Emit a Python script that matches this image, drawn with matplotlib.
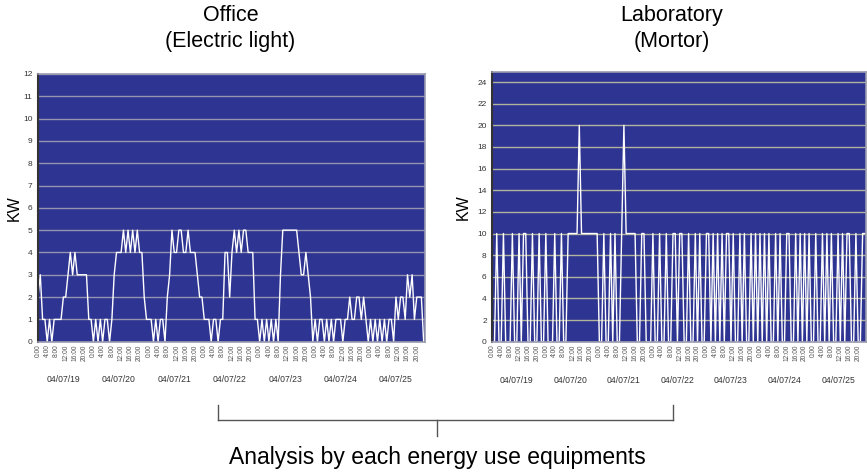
import matplotlib
matplotlib.use('Agg')
import matplotlib.pyplot as plt
from matplotlib.lines import Line2D
from matplotlib import transforms

plt.rcParams['font.family'] = ['Liberation Sans', 'DejaVu Sans']

# hourly readings, 7 days (04/07/19 .. 04/07/25)
days = ['04/07/19', '04/07/20', '04/07/21', '04/07/22',
        '04/07/23', '04/07/24', '04/07/25']

office_kw = [
    2, 3, 1, 1, 0, 1, 0, 1, 1, 1, 1, 2, 2, 3, 4, 3, 4, 3, 3, 3, 3, 3, 1, 1,
    0, 1, 0, 1, 0, 1, 1, 0, 1, 3, 4, 4, 4, 5, 4, 5, 4, 5, 4, 5, 4, 4, 2, 1,
    1, 1, 0, 1, 0, 1, 1, 0, 2, 3, 5, 4, 4, 5, 5, 4, 4, 5, 4, 4, 4, 3, 2, 2,
    1, 1, 1, 0, 1, 1, 0, 1, 1, 4, 4, 2, 4, 5, 4, 5, 4, 5, 5, 4, 4, 4, 1, 1,
    0, 1, 0, 1, 0, 1, 0, 1, 0, 3, 5, 5, 5, 5, 5, 5, 5, 4, 3, 3, 4, 3, 2, 0,
    1, 0, 1, 1, 0, 1, 0, 1, 0, 1, 1, 1, 0, 1, 1, 2, 1, 1, 2, 2, 1, 2, 1, 0,
    1, 0, 1, 0, 1, 0, 1, 0, 1, 1, 0, 2, 1, 2, 2, 1, 3, 2, 3, 1, 2, 2, 2, 0,
]

lab_kw = [
    0, 0, 10, 0, 0, 10, 0, 0, 0, 10, 0, 0, 10, 0, 10, 10, 0, 0, 10, 0, 0, 10, 0, 0,
    10, 0, 0, 0, 10, 0, 0, 10, 0, 0, 10, 10, 10, 10, 10, 20, 10, 10, 10, 10, 10, 10, 10, 10,
    0, 0, 10, 0, 0, 10, 0, 10, 0, 0, 10, 20, 10, 10, 10, 10, 10, 0, 0, 10, 10, 0, 0, 0,
    10, 0, 0, 10, 0, 0, 10, 0, 0, 10, 10, 0, 10, 10, 0, 0, 10, 0, 0, 10, 0, 10, 0, 0,
    10, 10, 0, 10, 0, 10, 0, 10, 0, 10, 10, 0, 10, 0, 0, 10, 0, 10, 0, 0, 10, 0, 10, 0,
    10, 0, 10, 0, 10, 0, 0, 10, 0, 10, 0, 0, 10, 10, 0, 0, 10, 0, 10, 0, 10, 0, 10, 0,
    0, 10, 0, 0, 10, 0, 10, 0, 10, 0, 0, 10, 0, 10, 0, 10, 10, 0, 0, 10, 0, 0, 10, 10,
]

hours = list(range(len(office_kw)))
tick_hours = list(range(0, 168, 4))
tick_labels = [f'{h % 24}:00' for h in tick_hours]

BG = '#2e3491'

fig = plt.figure(figsize=(8.67, 4.73), dpi=100)


def draw_panel(rect, values, ymax, ystep, grid_color, ypad):
    ax = fig.add_axes(rect)
    ax.set_facecolor(BG)
    ax.plot(hours, values, color='white', lw=1.0)
    ax.set_xlim(0, 167.5)
    ax.set_ylim(0, ymax)
    ax.set_yticks(range(0, ymax + 1, ystep))
    ax.yaxis.grid(True, color=grid_color, lw=1.0)
    ax.set_axisbelow(True)
    ax.set_xticks(tick_hours)
    ax.set_xticklabels(tick_labels, rotation=90, fontsize=4.8, color='#555555')
    ax.tick_params(axis='x', length=0, pad=2)
    ax.tick_params(axis='y', length=0, pad=4, labelsize=6, labelcolor='#333333')
    ax.set_ylabel('KW', fontsize=11.5, labelpad=ypad)
    for side in ('top', 'right', 'bottom'):
        ax.spines[side].set_color('#9a9ab0')
        ax.spines[side].set_linewidth(1.2)
    ax.spines['left'].set_color('#333333')
    ax.spines['left'].set_linewidth(1.5)
    trans = transforms.blended_transform_factory(ax.transData, ax.transAxes)
    for i, d in enumerate(days):
        ax.text(i * 24 + 11, -0.143, d, transform=trans, ha='center',
                va='center', fontsize=6.2, color='#333333')
    return ax


draw_panel([0.0438, 0.2776, 0.4462, 0.566], office_kw, 12, 1, '#9494b0', 1)
ax2 = draw_panel([0.5678, 0.2776, 0.431, 0.5695], lab_kw, 24, 2, '#b2b2a0', 5)
ax2.set_ylim(0, 24.9)

fig.text(0.266, 0.939, 'Office\n(Electric light)', ha='center', va='center',
         fontsize=15.5, linespacing=1.3)
fig.text(0.775, 0.939, 'Laboratory\n(Mortor)', ha='center', va='center',
         fontsize=15.5, linespacing=1.3)

# bracket below the two charts
bx0, bx1, bxm = 218 / 867, 673 / 867, 437 / 867
by, btop, bbot = 1 - 420 / 473, 1 - 405 / 473, 1 - 436 / 473
for xs, ys in [([bx0, bx1], [by, by]), ([bx0, bx0], [by, btop]),
               ([bx1, bx1], [by, btop]), ([bxm, bxm], [by, bbot])]:
    fig.add_artist(Line2D(xs, ys, color='#555555', lw=1.0))

fig.text(0.504, 0.032, 'Analysis by each energy use equipments',
         ha='center', va='center', fontsize=16.5)

fig.savefig('out.png', dpi=100)
